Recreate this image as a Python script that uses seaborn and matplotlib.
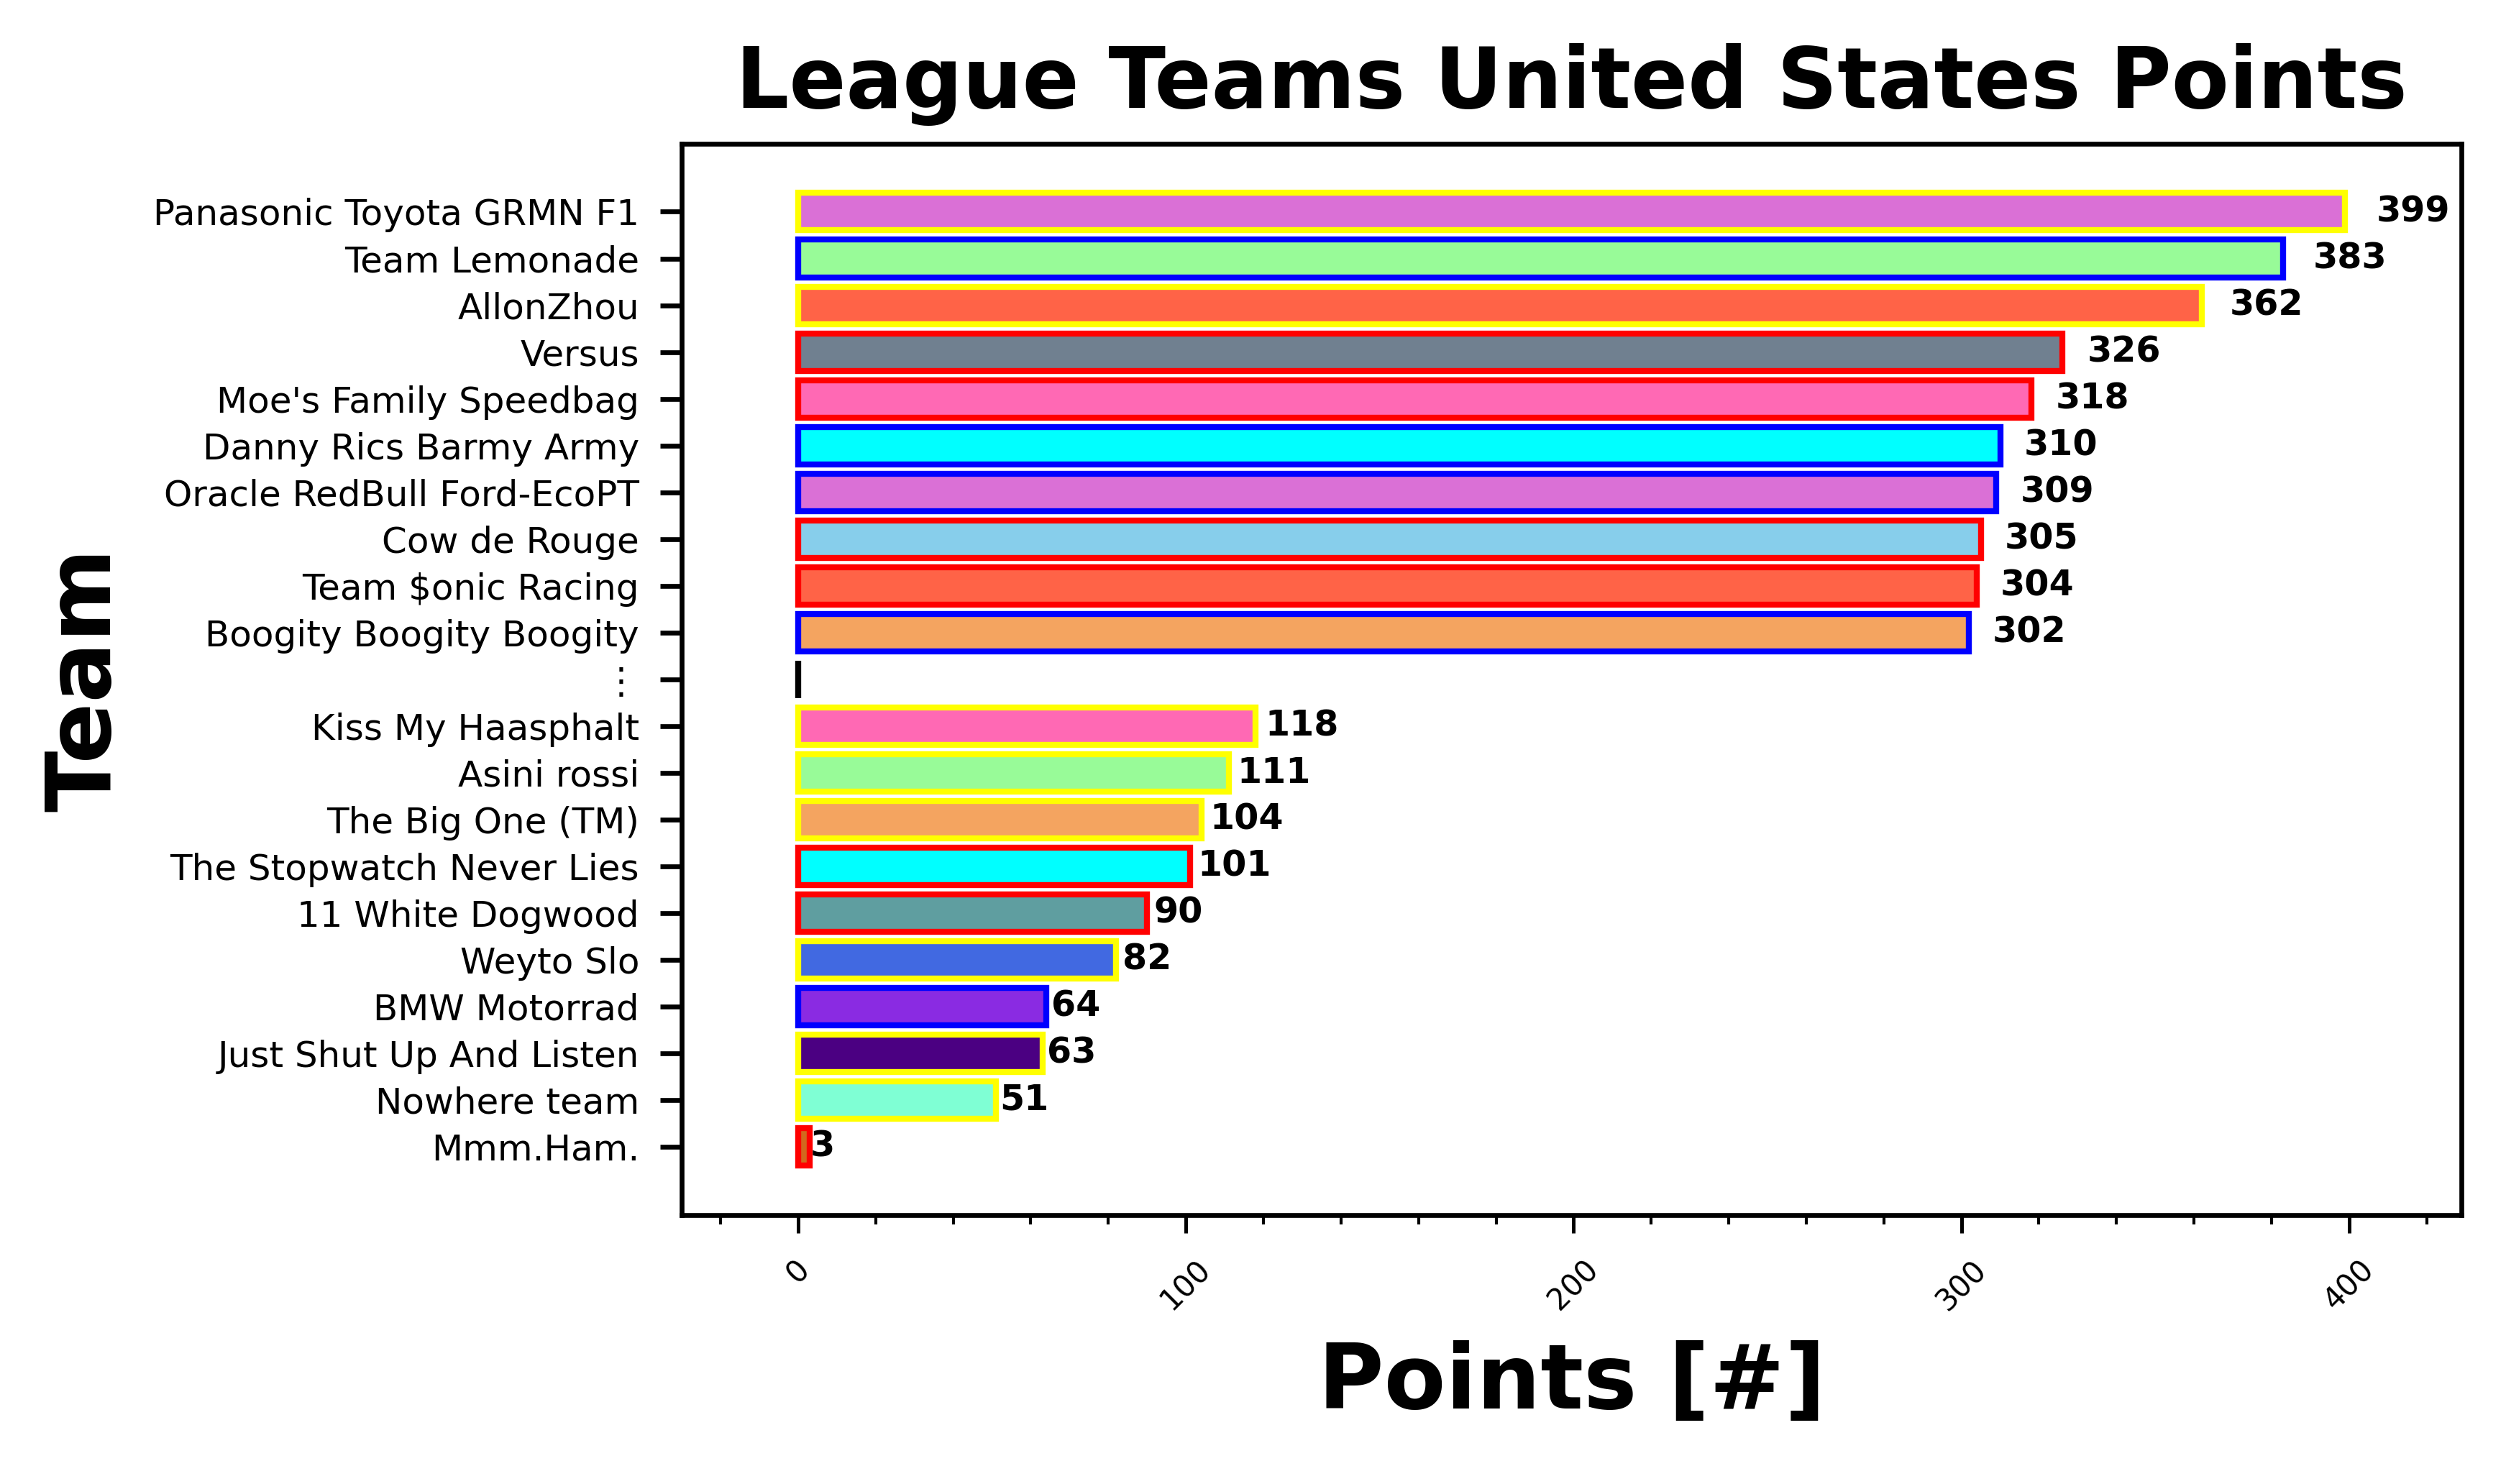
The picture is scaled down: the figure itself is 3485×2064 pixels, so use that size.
import pandas as pd
import matplotlib.pyplot as plt
import seaborn as sns

sns.set_style('white', {'text.color': 'black', 'axes.labelcolor': 'black',
                        'xtick.color': 'black', 'ytick.color': 'black',
                        'axes.edgecolor': 'black'})
plt.rcParams['font.family'] = ['DejaVu Sans']

teams = ["Panasonic Toyota GRMN F1", "Team Lemonade", "AllonZhou", "Versus",
         "Moe's Family Speedbag", "Danny Rics Barmy Army", "Oracle RedBull Ford-EcoPT",
         "Cow de Rouge", "Team $onic Racing", "Boogity Boogity Boogity", "\u22ee",
         "Kiss My Haasphalt", "Asini rossi", "The Big One (TM)",
         "The Stopwatch Never Lies", "11 White Dogwood", "Weyto Slo",
         "BMW Motorrad", "Just Shut Up And Listen", "Nowhere team", "Mmm.Ham."]
points = [399, 383, 362, 326, 318, 310, 309, 305, 304, 302, 0,
          118, 111, 104, 101, 90, 82, 64, 63, 51, 3]
fill_colors = ["orchid", "palegreen", "tomato", "slategray", "hotpink", "cyan",
               "orchid", "skyblue", "tomato", "sandybrown", "white",
               "hotpink", "palegreen", "sandybrown", "cyan", "cadetblue",
               "royalblue", "blueviolet", "indigo", "aquamarine", "chocolate"]
edge_colors = ["yellow", "blue", "yellow", "red", "red", "blue", "blue", "red",
               "red", "blue", "black", "yellow", "yellow", "yellow", "red", "red",
               "yellow", "blue", "yellow", "yellow", "red"]

df = pd.DataFrame({"Team": teams, "Points": points})

fig = plt.figure(figsize=(5.81, 3.44), dpi=600)
ax = fig.add_axes([0.272, 0.181, 0.710, 0.722])

sns.barplot(data=df, x="Points", y="Team", hue="Team", palette=fill_colors,
            legend=False, ax=ax, width=0.8, saturation=1)

# outline colours per team
for cont, ec in zip(ax.containers, edge_colors):
    for bar in cont:
        bar.set_edgecolor(ec)
        bar.set_linewidth(1.0)

for i, v in enumerate(points):
    if teams[i] == "\u22ee":
        continue
    ax.text(v * 1.02, i, str(v), ha="left", va="center",
            fontsize=5.9, fontweight="bold", color="black")

ax.set_xlim(-30, 429)
ax.set_ylim(21.47, -1.45)
ax.set_xticks([0, 100, 200, 300, 400])
ax.set_xticks(range(-20, 429, 20), minor=True)

ax.tick_params(axis="x", which="major", labelsize=5, length=3, width=0.6,
               labelrotation=45, bottom=True)
ax.tick_params(axis="x", which="minor", length=1.6, width=0.5, bottom=True)
ax.tick_params(axis="y", labelsize=6, length=3.6, width=0.8, left=True)

for s in ax.spines.values():
    s.set_color("black")
    s.set_linewidth(0.8)

ax.set_title("League Teams United States Points", fontsize=14, fontweight="bold")
ax.set_xlabel("Points [#]", fontsize=15, fontweight="bold")
ax.set_ylabel("Team", fontsize=15, fontweight="bold")

fig.savefig("out.png", dpi=600)
